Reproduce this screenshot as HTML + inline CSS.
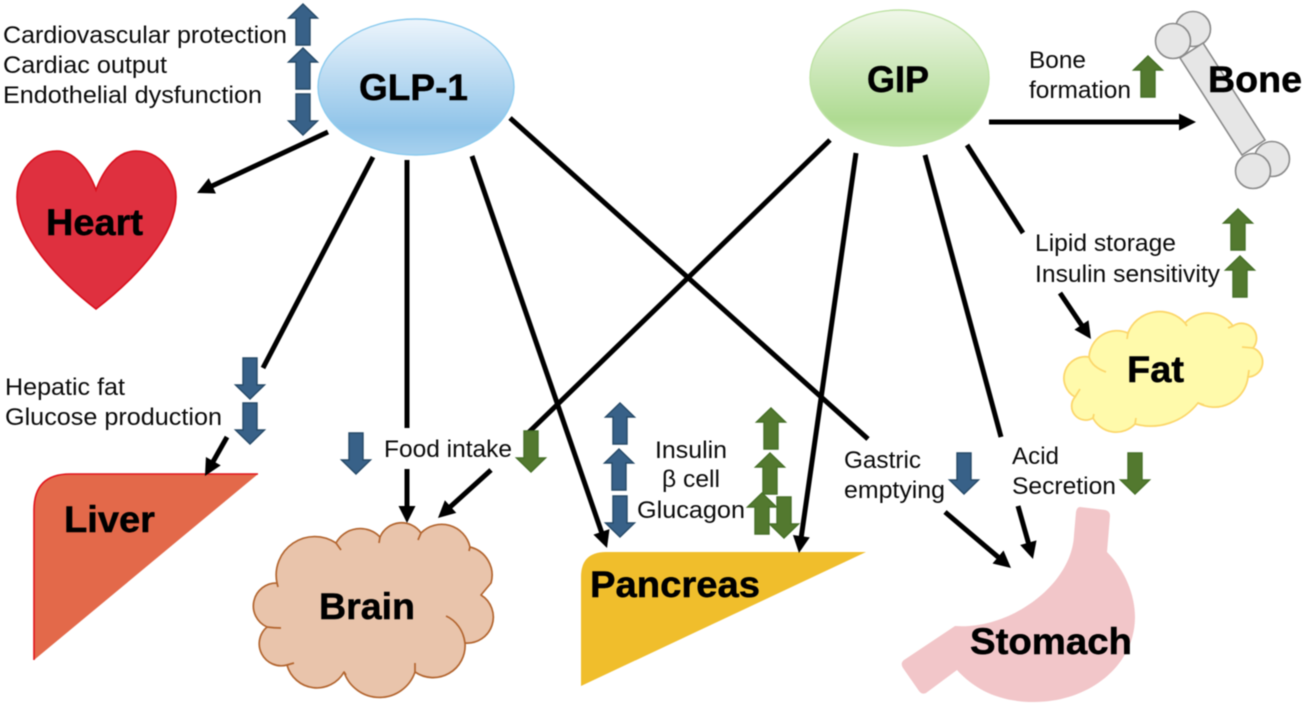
<!DOCTYPE html>
<html>
<head>
<meta charset="utf-8">
<style>
html,body{margin:0;padding:0;background:#fff;width:1306px;height:706px;overflow:hidden}
svg{display:block;filter:blur(.5px)}
text{font-family:"Liberation Sans",sans-serif;fill:#0a0a0a;font-size:24.5px}
.b{font-weight:bold;font-size:37.5px;fill:#000;stroke:#000;stroke-width:.5px}
.l{stroke:#000;stroke-width:5;fill:none}
</style>
</head>
<body>
<svg width="1306" height="706" viewBox="0 0 1306 706" xmlns="http://www.w3.org/2000/svg">
<defs>
<linearGradient id="gb" x1="0" y1="0" x2="0" y2="1"><stop offset="0" stop-color="#EDF5FC"/><stop offset=".8" stop-color="#90C4E9"/><stop offset="1" stop-color="#A8D1EE"/></linearGradient>
<linearGradient id="gg" x1="0" y1="0" x2="0" y2="1"><stop offset="0" stop-color="#F0F7E9"/><stop offset=".8" stop-color="#AFDB92"/><stop offset="1" stop-color="#C3E5AC"/></linearGradient>
<polygon id="a" points="0,0 14.5,14 7,14 7,41 -7,41 -7,14 -14.5,14" stroke-width="1.4" stroke-linejoin="miter"/>
<marker id="h" markerUnits="userSpaceOnUse" markerWidth="20" markerHeight="20" refX="8" refY="10" orient="auto" overflow="visible"><path d="M-1 1.5 L16 10 L-1 18.5 Z" fill="#000"/></marker>
</defs>

<!-- Heart -->
<path d="M96 190 C88 168 74 151 57 151 C33 151 17 172 17 197 C17 240 65 285 96 309 C127 285 176 240 176 197 C176 172 160 151 136 151 C118 151 104 168 96 190 Z" fill="#DF303F" stroke="#D90F1C" stroke-width="1.6"/>

<!-- Liver -->
<path d="M34 660 L34 510 Q34 474 70 474 L258 474 Z" fill="#E3694A"/>
<path d="M34 660 L34 510 Q34 474 70 474 L258 474" fill="none" stroke="#E2141C" stroke-width="1.6"/>

<!-- Brain -->
<path d="M277 583 A38.5 38.5 0 0 1 336 543 A27.5 27.5 0 0 1 380 537 A23.5 23.5 0 0 1 421 533 A29 29 0 0 1 470 547 A29 29 0 0 1 491 583 L481 595 A26 26 0 0 1 465 643 A32 32 0 0 1 415 672 A37.5 37.5 0 0 1 344 672 A31 31 0 0 1 287 665 A22 22 0 0 1 267 627 A23 23 0 0 1 277 583 Z" fill="#E9C4AB" stroke="#B3652F" stroke-width="1.7" stroke-linejoin="round"/>
<path d="M336 543 L341 550 M380 537 L379 543 M421 533 L418 540 M470 547 L469 551 M446 616 A30 34 0 0 1 465 643 M415 663 L415 672 M344 672 L346 675 M287 665 L294 663 M267 627 Q274 628 281 628 M277 583 L278 587" fill="none" stroke="#B3652F" stroke-width="1.7"/>

<!-- Pancreas -->
<path d="M581 686 L581 577 Q581 552 606 552 L866 552 Z" fill="#F0BE2C"/>

<!-- Stomach -->
<path d="M1080 507 L1105 510 Q1110 511 1110 516 L1107 552 C1125 570 1135 595 1135 617 C1135 665 1090 702 1034 702 C1000 702 975 690 957 670 L926 693 Q922 695 919 691 L903 668 Q900 663 904 660 L955 626 C1010 630 1072 585 1074 535 L1076 512 Q1077 507 1080 507 Z" fill="#F2C6C9"/>

<!-- Fat -->
<path d="M1089 357 A21.5 21.5 0 0 0 1075 397 A14 14 0 0 0 1093 418 A26 26 0 0 0 1135 424 A60 60 0 0 0 1198 403 A34 34 0 0 0 1248 377 A15 15 0 0 0 1253 348 A15 15 0 0 0 1233 326 A31 31 0 0 0 1185 323 A34 34 0 0 0 1128 333 A28 28 0 0 0 1089 357 Z" fill="#FFFAAB" stroke="#FCD76B" stroke-width="1.8"/>
<path d="M1089 357 Q1092 367 1106 372 M1075 397 L1080 389 M1093 418 L1094 414 M1135 424 L1136 418 M1198 403 L1204 405 M1248 377 L1249 370 M1253 348 L1242 347 M1233 326 L1228 328 M1185 323 L1187 326 M1128 333 L1127 339" fill="none" stroke="#FCD76B" stroke-width="1.8"/>

<!-- Bone -->
<g fill="#E6E6E6" stroke="#8A8A8A" stroke-width="1.6">
<circle cx="1193" cy="29" r="17.5"/>
<circle cx="1272" cy="159" r="17.5"/>
<polygon points="1180,58 1203,43 1265,140 1242,155"/>
<circle cx="1173" cy="41" r="17.5"/>
<circle cx="1253" cy="171" r="17.5"/>
</g>

<!-- Ellipses -->
<ellipse cx="416" cy="87" rx="98" ry="68" fill="url(#gb)" stroke="#8CCBEE" stroke-width="1.4"/>
<ellipse cx="899.5" cy="78" rx="89.5" ry="68" fill="url(#gg)" stroke="#BEE2A5" stroke-width="1.4"/>

<!-- Connectors -->
<g class="l">
<line x1="328" y1="132" x2="204.2" y2="189.6" marker-end="url(#h)"/>
<line x1="373" y1="157" x2="263" y2="368"/>
<line x1="227" y1="437" x2="208.9" y2="469" marker-end="url(#h)"/>
<line x1="407" y1="160" x2="407" y2="428"/>
<line x1="407" y1="469" x2="407" y2="515" marker-end="url(#h)"/>
<line x1="830" y1="140" x2="528" y2="433"/>
<line x1="491" y1="470" x2="443.9" y2="512.6" marker-end="url(#h)"/>
<line x1="472" y1="156" x2="604.4" y2="540.4" marker-end="url(#h)"/>
<line x1="856" y1="153" x2="800.1" y2="545.1" marker-end="url(#h)"/>
<line x1="510" y1="118" x2="868" y2="439"/>
<line x1="945" y1="512" x2="1004.9" y2="562.8" marker-end="url(#h)"/>
<line x1="925" y1="155" x2="1001" y2="437"/>
<line x1="1018" y1="506" x2="1030.8" y2="551.3" marker-end="url(#h)"/>
<line x1="967" y1="145" x2="1023" y2="233"/>
<line x1="1060" y1="293" x2="1086.5" y2="332.4" marker-end="url(#h)"/>
<line x1="989" y1="122" x2="1188" y2="122" marker-end="url(#h)"/>
</g>

<!-- Blue arrows -->
<g fill="#386188" stroke="#264A68">
<use href="#a" transform="translate(303,4)"/>
<use href="#a" transform="translate(303,48)"/>
<use href="#a" transform="translate(303,135) scale(1,-1)"/>
<use href="#a" transform="translate(250,399) scale(1,-1)"/>
<use href="#a" transform="translate(250,444) scale(1,-1)"/>
<use href="#a" transform="translate(356,474) scale(1,-1)"/>
<use href="#a" transform="translate(620,403)"/>
<use href="#a" transform="translate(619,449)"/>
<use href="#a" transform="translate(620,537) scale(1,-1)"/>
<use href="#a" transform="translate(964,494) scale(1,-1)"/>
</g>

<!-- Green arrows -->
<g fill="#53792F" stroke="#467028">
<use href="#a" transform="translate(1148,56)"/>
<use href="#a" transform="translate(1238,209)"/>
<use href="#a" transform="translate(1240,256)"/>
<use href="#a" transform="translate(531,472) scale(1,-1)"/>
<use href="#a" transform="translate(771,408)"/>
<use href="#a" transform="translate(770,453)"/>
<use href="#a" transform="translate(762,493)"/>
<use href="#a" transform="translate(784,538) scale(1,-1)"/>
<use href="#a" transform="translate(1135,494) scale(1,-1)"/>
</g>

<!-- Small labels -->
<text x="3" y="43" textLength="284" lengthAdjust="spacingAndGlyphs">Cardiovascular protection</text>
<text x="3" y="73" textLength="164" lengthAdjust="spacingAndGlyphs">Cardiac output</text>
<text x="3" y="103" textLength="259" lengthAdjust="spacingAndGlyphs">Endothelial dysfunction</text>
<text x="5" y="395" textLength="120" lengthAdjust="spacingAndGlyphs">Hepatic fat</text>
<text x="5" y="425" textLength="217" lengthAdjust="spacingAndGlyphs">Glucose production</text>
<text x="384" y="457" textLength="128" lengthAdjust="spacingAndGlyphs">Food intake</text>
<text x="655" y="458" textLength="72" lengthAdjust="spacingAndGlyphs">Insulin</text>
<text x="662" y="487" textLength="58" lengthAdjust="spacingAndGlyphs">β cell</text>
<text x="637" y="518" textLength="108" lengthAdjust="spacingAndGlyphs">Glucagon</text>
<text x="844" y="468" textLength="77" lengthAdjust="spacingAndGlyphs">Gastric</text>
<text x="844" y="498" textLength="101" lengthAdjust="spacingAndGlyphs">emptying</text>
<text x="1012" y="464" textLength="47" lengthAdjust="spacingAndGlyphs">Acid</text>
<text x="1012" y="494" textLength="104" lengthAdjust="spacingAndGlyphs">Secretion</text>
<text x="1029" y="68" textLength="57" lengthAdjust="spacingAndGlyphs">Bone</text>
<text x="1029" y="98" textLength="102" lengthAdjust="spacingAndGlyphs">formation</text>
<text x="1035" y="251" textLength="141" lengthAdjust="spacingAndGlyphs">Lipid storage</text>
<text x="1035" y="282" textLength="185" lengthAdjust="spacingAndGlyphs">Insulin sensitivity</text>

<!-- Bold labels -->
<text class="b" x="359" y="100" textLength="109" lengthAdjust="spacingAndGlyphs">GLP-1</text>
<text class="b" x="867" y="92" textLength="62" lengthAdjust="spacingAndGlyphs">GIP</text>
<text class="b" x="1208" y="92" textLength="94" lengthAdjust="spacingAndGlyphs">Bone</text>
<text class="b" x="46" y="235" textLength="97" lengthAdjust="spacingAndGlyphs">Heart</text>
<text class="b" x="1127" y="382" textLength="57" lengthAdjust="spacingAndGlyphs">Fat</text>
<text class="b" x="64" y="532" textLength="91" lengthAdjust="spacingAndGlyphs">Liver</text>
<text class="b" x="319" y="619" textLength="96" lengthAdjust="spacingAndGlyphs">Brain</text>
<text class="b" x="590" y="597" textLength="170" lengthAdjust="spacingAndGlyphs">Pancreas</text>
<text class="b" x="970" y="654" textLength="162" lengthAdjust="spacingAndGlyphs">Stomach</text>
</svg>
</body>
</html>
